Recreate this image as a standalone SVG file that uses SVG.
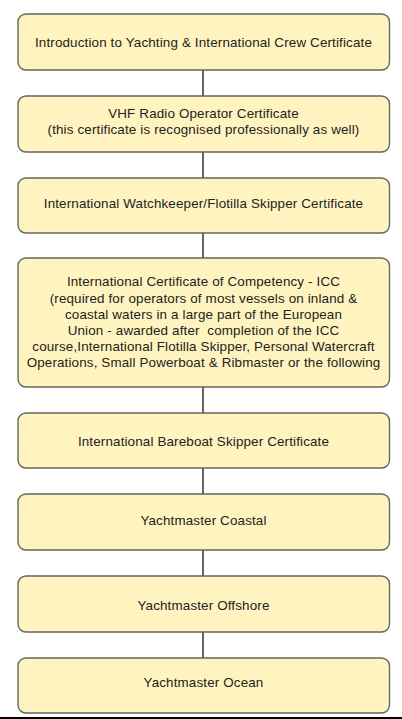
<svg xmlns="http://www.w3.org/2000/svg" width="402" height="719" viewBox="0 0 402 719">
<style>
.box{fill:#FFF4C0;stroke:#66665a;stroke-width:1.4}
.t{font-family:"Liberation Sans",Arial,sans-serif;font-size:13.4px;letter-spacing:0.15px;fill:#222;text-anchor:middle}
.c{stroke:#333;stroke-width:1.5;fill:none}
</style>
<rect width="402" height="719" fill="#ffffff"/>
<g id="connectors">
<line class="c" x1="203" y1="70" x2="203" y2="96"/>
<line class="c" x1="203" y1="152" x2="203" y2="178"/>
<line class="c" x1="203" y1="233" x2="203" y2="258"/>
<line class="c" x1="203" y1="387" x2="203" y2="413"/>
<line class="c" x1="203" y1="468" x2="203" y2="494"/>
<line class="c" x1="203" y1="550" x2="203" y2="576"/>
<line class="c" x1="203" y1="632" x2="203" y2="658"/>
</g>
<g id="n1"><rect class="box" x="18" y="14" width="371.5" height="56" rx="8"/><text class="t" x="203.5" y="46.5">Introduction to Yachting &amp; International Crew Certificate</text></g>
<g id="n2"><rect class="box" x="18" y="96" width="371.5" height="56" rx="8"/><text class="t" x="203.5" y="118">VHF Radio Operator Certificate</text><text class="t" x="203.5" y="134">(this certificate is recognised professionally as well)</text></g>
<g id="n3"><rect class="box" x="18" y="178" width="371.5" height="55" rx="8"/><text class="t" x="203.5" y="208">International Watchkeeper/Flotilla Skipper Certificate</text></g>
<g id="n4"><rect class="box" x="18" y="258" width="371.5" height="129" rx="8"/>
<text class="t" x="203.5" y="286">International Certificate of Competency - ICC</text>
<text class="t" x="203.5" y="302.5">(required for operators of most vessels on inland &amp;</text>
<text class="t" x="203.5" y="318.5">coastal waters in a large part of the European</text>
<text class="t" x="203.5" y="334.5" xml:space="preserve">Union - awarded after  completion of the ICC</text>
<text class="t" x="203.5" y="351">course,International Flotilla Skipper, Personal Watercraft</text>
<text class="t" x="203.5" y="367">Operations, Small Powerboat &amp; Ribmaster or the following</text>
</g>
<g id="n5"><rect class="box" x="18" y="413" width="371.5" height="55" rx="8"/><text class="t" x="203.5" y="446">International Bareboat Skipper Certificate</text></g>
<g id="n6"><rect class="box" x="18" y="494" width="371.5" height="56" rx="8"/><text class="t" x="203.5" y="524.5">Yachtmaster Coastal</text></g>
<g id="n7"><rect class="box" x="18" y="576" width="371.5" height="56" rx="8"/><text class="t" x="203.5" y="609.5">Yachtmaster Offshore</text></g>
<g id="n8"><rect class="box" x="18" y="658" width="371.5" height="55" rx="8"/><text class="t" x="203.5" y="687">Yachtmaster Ocean</text></g>
<rect x="0" y="717" width="402" height="2" fill="#000"/>
</svg>
